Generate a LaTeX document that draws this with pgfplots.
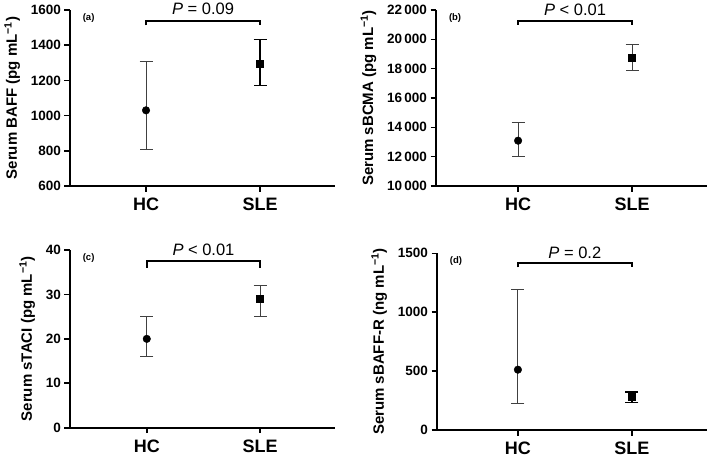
\documentclass[border=0pt]{standalone}
\usepackage{fontspec}
\setmainfont{Liberation Sans}
\usepackage{pgfplots}
\pgfplotsset{compat=1.18}
\tikzset{
  ptext/.style={anchor=base, font=\fontsize{16.5}{16.5}\selectfont},
  plabel/.style={anchor=north west, font=\fontsize{9.5}{9.5}\selectfont\bfseries},
}
\pgfplotsset{
  panel/.style={
    scale only axis,
    anchor=south west,
    axis x line=bottom, axis y line=left,
    axis line style={line width=2pt, -},
    xtick={0,1}, xticklabels={HC,SLE},
    major tick length=5.5pt,
    tick style={line width=1.6pt, black},
    tick align=outside,
    x tick label style={font=\fontsize{18}{18}\selectfont\bfseries, yshift=-3pt},
    y tick label style={font=\fontsize{13.5}{13.5}\selectfont\bfseries},
    ylabel style={font=\fontsize{15}{15}\selectfont\bfseries, yshift=4pt},
    /pgf/number format/assume math mode=true,
    /pgf/number format/1000 sep={\,},
    /pgf/number format/min exponent for 1000 sep=4,
    scaled y ticks=false,
    clip=false,
  },
  thinbar/.style={only marks, black, error bars/y dir=both, error bars/y explicit,
    error bars/error bar style={line width=0.9pt, black!75},
    error bars/error mark options={rotate=90, mark size=6.5pt, line width=0.9pt, black!75}},
  thickbar/.style={only marks, black, error bars/y dir=both, error bars/y explicit,
    error bars/error bar style={line width=1.6pt, black},
    error bars/error mark options={rotate=90, mark size=6.5pt, line width=1.6pt, black}},
  bracket/.style={line width=1.8pt, black, mark=none},
}
\begin{document}
\begin{tikzpicture}
\path (0pt,0pt) rectangle (709pt,459pt);
% (a)
\begin{axis}[panel, at={(70pt,273pt)}, width=265pt, height=176pt,
  xmin=-0.667, xmax=1.658, ymin=600, ymax=1600, ytick={600,800,...,1600},
  ylabel={Serum BAFF (pg mL\textsuperscript{−1})}]
\addplot[thinbar, mark=*, mark size=3.8pt] coordinates {(0,1030) += (0,280) -= (0,220)};
\addplot[thickbar, mark=square*, mark size=3.5pt] coordinates {(1,1295) += (0,137) -= (0,125)};
\addplot[bracket] coordinates {(0,1513) (0,1537) (1,1537) (1,1513)};
\node[ptext] at (axis cs:0.5,1572) {\textit{P} = 0.09};
\node[plabel] at (rel axis cs:0.035,1.0) {(a)};
\end{axis}
% (b)
\begin{axis}[panel, at={(436pt,273pt)}, width=271pt, height=176pt,
  xmin=-0.72, xmax=1.657, ymin=10000, ymax=22000, ytick={10000,12000,...,22000},
  ylabel={Serum sBCMA (pg mL\textsuperscript{−1})}]
\addplot[thinbar, mark=*, mark size=3.8pt] coordinates {(0,13090) += (0,1210) -= (0,1090)};
\addplot[thinbar, mark=square*, mark size=3.5pt] coordinates {(1,18750) += (0,910) -= (0,890)};
\addplot[bracket] coordinates {(0,20990) (0,21270) (1,21270) (1,20990)};
\node[ptext] at (axis cs:0.5,21620) {\textit{P} < 0.01};
\node[plabel] at (rel axis cs:0.035,1.0) {(b)};
\end{axis}
% (c)
\begin{axis}[panel, at={(70pt,31.3pt)}, width=265pt, height=177.7pt,
  xmin=-0.677, xmax=1.66, ymin=0, ymax=40, ytick={0,10,...,40},
  ylabel={Serum sTACI (pg mL\textsuperscript{−1})}]
\addplot[thinbar, mark=*, mark size=3.8pt] coordinates {(0,20) += (0,5) -= (0,4)};
\addplot[thinbar, mark=square*, mark size=3.5pt] coordinates {(1,29) += (0,3) -= (0,4)};
\addplot[bracket] coordinates {(0,36.0) (0,37.5) (1,37.5) (1,36.0)};
\node[ptext] at (axis cs:0.5,38.8) {\textit{P} < 0.01};
\node[plabel] at (rel axis cs:0.035,1.0) {(c)};
\end{axis}
% (d)
\begin{axis}[panel, at={(437pt,29pt)}, width=270pt, height=176.7pt,
  xmin=-0.71, xmax=1.66, ymin=0, ymax=1500, ytick={0,500,1000,1500},
  ylabel={Serum sBAFF-R (ng mL\textsuperscript{−1})}]
\addplot[thinbar, mark=*, mark size=3.8pt] coordinates {(0,512) += (0,683) -= (0,290)};
\addplot[thickbar, mark=square*, mark size=3.5pt] coordinates {(1,280) += (0,45) -= (0,48)};
\addplot[bracket] coordinates {(0,1380) (0,1420) (1,1420) (1,1380)};
\node[ptext] at (axis cs:0.5,1455) {\textit{P} = 0.2};
\node[plabel] at (rel axis cs:0.035,1.0) {(d)};
\end{axis}
\end{tikzpicture}
\end{document}
